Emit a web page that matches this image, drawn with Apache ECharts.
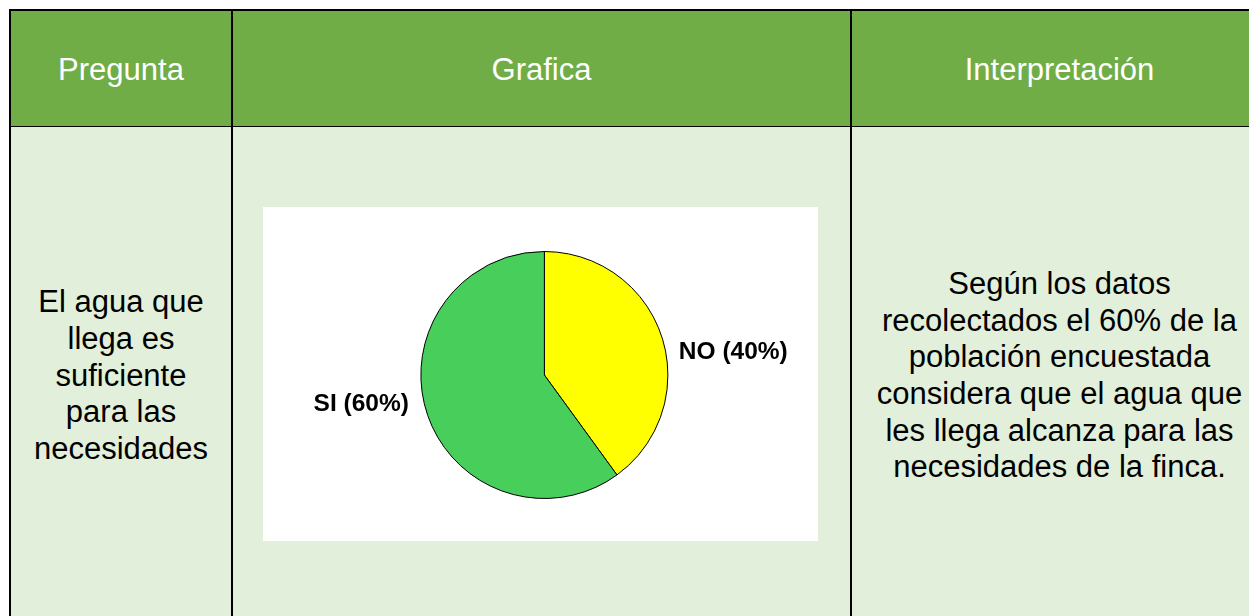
<!DOCTYPE html>
<html lang="es">
<head>
<meta charset="UTF-8">
<title>Grafica</title>
<script src="https://cdn.jsdelivr.net/npm/echarts@6/dist/echarts.min.js"></script>
<style type="text/css">
    html, body{
        margin:0;
        padding:0;
        width:1249px;
        height:616px;
        overflow:hidden;
        background:#fff;
        font-family: Arial, "Liberation Sans", sans-serif;
    }
    .cell{
        position:absolute;
        box-sizing:border-box;
        display:flex;
        align-items:center;
        justify-content:center;
        text-align:center;
        font-size:31px;
        line-height:36.7px;
    }
    .head{ background:#70ad47; color:#fff; top:9px; height:118px; padding-top:3px; border-top:2px solid #000; border-bottom:1px solid #000; }
    .body{ background:#e2efda; color:#000; top:127px; height:494px; padding-top:4px; }
    .c1{ left:9px; width:222px; border-left:2px solid #000; }
    .c2{ left:231px; width:619px; border-left:2px solid #000; }
    .c3{ left:850px; width:417px; border-left:2px solid #000; }
    #main{
        position:absolute;
        left:263px;
        top:207px;
        width:555px;
        height:334px;
        background:#fff;
    }
</style>
</head>
<body>
<div class="cell head c1">Pregunta</div>
<div class="cell head c2">Grafica</div>
<div class="cell head c3">Interpretación</div>

<div class="cell body c1">El agua que<br>llega es<br>suficiente<br>para las<br>necesidades</div>
<div class="cell body c2"></div>
<div class="cell body c3">Según los datos<br>recolectados el 60% de la<br>población encuestada<br>considera que el agua que<br>les llega alcanza para las<br>necesidades de la finca.</div>

<div id="main"></div>

<script type="text/javascript">
    // datos de la grafica
    var categorias = ['NO', 'SI'];
    var valores = [40, 60];
    var colores = ['#ffff00', '#48ce5a'];
    // ajuste de las etiquetas (dx, dy)
    var ajusteEtiquetas = [[12, 15], [-13, -9]];

    var datos = [];
    for (var i = 0; i < categorias.length; i++) {
        datos.push({name: categorias[i], value: valores[i], itemStyle: {color: colores[i]}});
    }

    var myChart = echarts.init(document.getElementById('main'));
    var option = {
        animation: false,
        backgroundColor: '#fff',
        series: [{
            type: 'pie',
            radius: 123.5,
            center: ['50.7%', '50.3%'],
            startAngle: 90,
            clockwise: true,
            silent: true,
            data: datos,
            itemStyle: {borderColor: '#000', borderWidth: 1},
            label: {
                show: true,
                position: 'outside',
                formatter: '{b} ({d}%)',
                color: '#000',
                fontSize: 24.5,
                fontWeight: 'bold',
                fontFamily: 'Arial, "Liberation Sans", sans-serif'
            },
            labelLine: {show: false, length: 0, length2: 0},
            labelLayout: function (params) {
                var a = ajusteEtiquetas[params.dataIndex];
                return {dx: a[0], dy: a[1]};
            },
            emphasis: {disabled: true}
        }]
    };
    myChart.setOption(option);
</script>
</body>
</html>
